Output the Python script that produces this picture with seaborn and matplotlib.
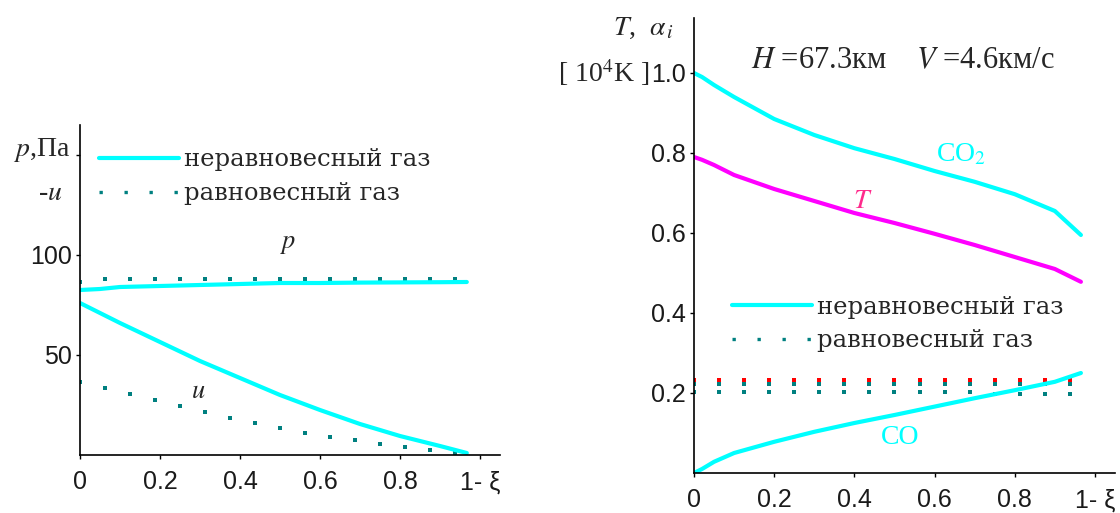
import matplotlib
matplotlib.use("Agg")
import matplotlib.pyplot as plt
from matplotlib.lines import Line2D
import numpy as np
import pandas as pd
import seaborn as sns

# ---- left panel: pressure p and velocity -u along 1-xi ----
xi_ne = [0.0, 0.05, 0.1, 0.2, 0.3, 0.4, 0.5, 0.6, 0.7, 0.8, 0.9, 0.967]
p_ne = [82.5, 83.0, 84.0, 84.5, 85.0, 85.5, 86.0, 86.0, 86.2, 86.3, 86.4, 86.5]
u_ne = [76.0, 71.0, 66.0, 56.5, 47.0, 38.5, 30.0, 22.5, 15.5, 9.5, 4.5, 1.0]

xi_eq = [0.0, 0.0625, 0.125, 0.1875, 0.25, 0.3125, 0.375, 0.4375,
         0.5, 0.5625, 0.625, 0.6875, 0.75, 0.8125, 0.875, 0.9375]
p_eq = [86.7, 88, 88, 88, 88, 88, 88, 88, 88, 88, 88, 88, 88, 88, 88, 88]
u_eq = [36.7, 33.3, 30.3, 27.3, 24.3, 21.3, 18.3, 16.2,
        13.3, 11.2, 9.2, 7.3, 5.3, 4.2, 2.3, 0.8]

# ---- right panel: mass fractions and temperature ----
xi_r = [0.0, 0.02, 0.05, 0.1, 0.2, 0.3, 0.4, 0.5, 0.6, 0.7, 0.8, 0.9, 0.965]
co2_ne = [1.0, 0.99, 0.97, 0.94, 0.885, 0.845, 0.812, 0.785, 0.755, 0.728, 0.697, 0.655, 0.595]
t_ne = [0.79, 0.783, 0.77, 0.745, 0.71, 0.68, 0.65, 0.625, 0.598, 0.57, 0.54, 0.51, 0.478]
co_ne = [0.0, 0.01, 0.028, 0.05, 0.078, 0.103, 0.125, 0.145, 0.166, 0.187, 0.207, 0.228, 0.25]

eq_red = [0.2325] * 16
eq_teal_hi = [0.2225] * 16
eq_teal_lo = [0.202] * 12 + [0.198] * 4

x_ticks = [0, 0.2, 0.4, 0.6, 0.8, 1.0]
x_labels = ["0", "0.2", "0.4", "0.6", "0.8", "1- ξ"]
left_yticks = [50, 100, 150]
left_ylabels = ["50", "100", ""]
right_yticks = [0.2, 0.4, 0.6, 0.8, 1.0]
right_ylabels = ["0.2", "0.4", "0.6", "0.8", "1.0"]

legend_labels = ["неравновесный газ", "равновесный газ"]

CYAN = "#00ffff"
TEAL = "#008080"
MAGENTA = "#ff00ff"
PINK = "#ff2a8c"
RED = "#ff0000"

sns.set_style("white")
plt.rcParams["font.family"] = ["Liberation Serif", "DejaVu Serif"]
plt.rcParams["mathtext.fontset"] = "stix"

fig = plt.figure(figsize=(11.2, 5.13), dpi=100)
axL = fig.add_axes([80 / 1120, 58 / 513, 420 / 1120, 330 / 513])
axR = fig.add_axes([694 / 1120, 40 / 513, 421 / 1120, 455 / 513])

LW = 3.0
DOT = 7

df_left = pd.DataFrame({"xi": xi_ne, "p": p_ne, "u": u_ne})
df_left_eq = pd.DataFrame({"xi": xi_eq, "p": p_eq, "u": u_eq})
sns.lineplot(data=df_left, x="xi", y="p", ax=axL, color=CYAN, lw=LW)
sns.lineplot(data=df_left, x="xi", y="u", ax=axL, color=CYAN, lw=LW)
sns.scatterplot(data=df_left_eq, x="xi", y="p", ax=axL, color=TEAL,
                marker="s", s=DOT, linewidth=0)
sns.scatterplot(data=df_left_eq, x="xi", y="u", ax=axL, color=TEAL,
                marker="s", s=DOT, linewidth=0)

df_right = pd.DataFrame({"xi": xi_r, "co2": co2_ne, "t": t_ne, "co": co_ne})
df_right_eq = pd.DataFrame({"xi": xi_eq, "red": eq_red, "hi": eq_teal_hi, "lo": eq_teal_lo})
sns.lineplot(data=df_right, x="xi", y="co2", ax=axR, color=CYAN, lw=LW)
sns.lineplot(data=df_right, x="xi", y="t", ax=axR, color=MAGENTA, lw=LW)
sns.lineplot(data=df_right, x="xi", y="co", ax=axR, color=CYAN, lw=LW)
sns.scatterplot(data=df_right_eq, x="xi", y="red", ax=axR, color=RED,
                marker="s", s=DOT, linewidth=0)
sns.scatterplot(data=df_right_eq, x="xi", y="hi", ax=axR, color=TEAL,
                marker="s", s=DOT, linewidth=0)
sns.scatterplot(data=df_right_eq, x="xi", y="lo", ax=axR, color=TEAL,
                marker="s", s=DOT, linewidth=0)

tick_font = {"family": "Liberation Sans", "size": 18, "color": "#1a1a1a"}

for ax in (axL, axR):
    ax.set_xlabel("")
    ax.set_ylabel("")
    ax.set_xlim(0, 1.05)
    for side in ("top", "right"):
        ax.spines[side].set_visible(False)
    for side in ("left", "bottom"):
        ax.spines[side].set_color("black")
        ax.spines[side].set_linewidth(1.2)
    ax.tick_params(axis="both", direction="out", length=3, width=1,
                   color="black", left=True, bottom=True)
    ax.tick_params(axis="x", pad=8)
    ax.tick_params(axis="y", pad=3)
    ax.patch.set_alpha(0)

axL.set_ylim(0, 165)
axL.set_xticks(x_ticks)
axL.set_xticklabels(x_labels, fontdict=tick_font)
axL.set_yticks(left_yticks)
axL.set_yticklabels(left_ylabels, fontdict=tick_font)

axR.set_ylim(0, 1.1375)
axR.set_xticks(x_ticks)
axR.set_xticklabels(x_labels, fontdict=tick_font)
axR.set_yticks(right_yticks)
axR.set_yticklabels(right_ylabels, fontdict=tick_font)

# axis captions
label_font = dict(fontsize=20, family=["Liberation Serif", "DejaVu Serif"])
fig.text(42 / 1120, 1 - 150 / 513, "$p$,Па", ha="center", va="center", **label_font)
fig.text(50 / 1120, 1 - 193 / 513, "-$u$", ha="center", va="center", **label_font)
fig.text(644 / 1120, 1 - 28 / 513, "$T$,  $\\alpha_{\\,i}$", ha="center", va="center", **label_font)
fig.text(604 / 1120, 1 - 73 / 513, "[ 10$^4$K ]", ha="center", va="center", **label_font)

# curve annotations
axL.text(0.52, 105, "$p$", fontsize=19, ha="center", va="center")
axL.text(0.295, 31.5, "$u$", fontsize=19, ha="center", va="center")
axR.text(0.42, 0.68, "$T$", fontsize=20, color=PINK, ha="center", va="center")
axR.text(0.665, 0.795, "CO$_2$", fontsize=20, color=CYAN, ha="center", va="center")
axR.text(0.515, 0.09, "CO", fontsize=20, color=CYAN, ha="center", va="center")
axR.text(0.52, 1.03, "$H$ =67.3км    $V$ =4.6км/с", fontsize=22,
         ha="center", va="center")

handles = [
    Line2D([], [], color=CYAN, lw=LW),
    Line2D([], [], color=TEAL, lw=2.4, linestyle=(0, (1, 6.5))),
]
leg_font = {"family": "DejaVu Serif", "size": 17.5}
for ax, anchor in ((axL, (0.045, 0.93)), (axR, (0.09, 0.39))):
    ax.legend(handles, legend_labels, loc="upper left", bbox_to_anchor=anchor,
              frameon=False, prop=leg_font, handlelength=3.3,
              handletextpad=0.2, borderpad=0, borderaxespad=0,
              labelspacing=0.45)

fig.savefig("out.png", dpi=100)
